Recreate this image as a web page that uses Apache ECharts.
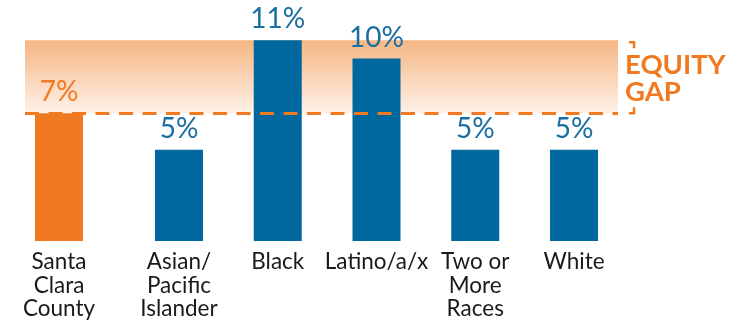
<!DOCTYPE html>
<html>
<head>
<meta charset="utf-8">
<script src="https://cdn.jsdelivr.net/npm/echarts@6/dist/echarts.min.js"></script>
<style>
  html, body { margin: 0; padding: 0; background: #fff; }
  #chart { width: 744px; height: 322px; }
</style>
</head>
<body>
<div id="chart"></div>
<script>
// benchmark bar
const countyLabel = ['Santa\nClara\nCounty'];
const countyValue = [7];

// racial / ethnic groups
const groupLabels = ['Asian/\nPacific\nIslander', 'Black', 'Latino/a/x', 'Two or\nMore\nRaces', 'White'];
const groupValues = [5, 11, 10, 5, 5];

// equity gap range (county rate up to highest group)
const gapRange = [7, 11];

const ORANGE = '#F07A21';
const BLUE = '#00679F';
const FONT = 'Lato, "Open Sans", sans-serif';

const chart = echarts.init(document.getElementById('chart'));

const gridTop = 22, gridBottom = 81;

const catAxis = (data, gridIndex) => ({
    type: 'category',
    gridIndex,
    data,
    axisLine: { show: false },
    axisTick: { show: false },
    axisLabel: {
        interval: 0,
        margin: 9,
        color: '#1a1a1a',
        fontFamily: FONT,
        fontSize: 22.5,
        lineHeight: 23.5
    }
});

const valAxis = (gridIndex) => ({
    type: 'value',
    gridIndex,
    min: 0,
    max: 12,
    show: false,
    splitLine: { show: false }
});

const barLabel = (color) => ({
    show: true,
    position: 'top',
    distance: 7,
    formatter: '{c}%',
    color,
    fontFamily: FONT,
    fontSize: 28
});

const option = {
    animation: false,
    grid: [
        { left: 9.5, width: 99, top: gridTop, bottom: gridBottom },
        { left: 129.6, right: 120.6, top: gridTop, bottom: gridBottom },
        { left: 25, right: 126, top: gridTop, bottom: gridBottom }
    ],
    xAxis: [
        catAxis(countyLabel, 0),
        catAxis(groupLabels, 1),
        { type: 'value', gridIndex: 2, min: 0, max: 1, show: false }
    ],
    yAxis: [valAxis(0), valAxis(1), valAxis(2)],
    series: [
        {
            type: 'line',
            xAxisIndex: 2,
            yAxisIndex: 2,
            data: [],
            z: 1,
            markArea: {
                silent: true,
                itemStyle: {
                    color: new echarts.graphic.LinearGradient(0, 0, 0, 1, [
                        { offset: 0, color: '#F6B683' },
                        { offset: 1, color: '#FEF1E8' }
                    ])
                },
                label: {
                    show: true,
                    position: 'right',
                    distance: 7,
                    formatter: 'EQUITY\nGAP',
                    align: 'left',
                    color: ORANGE,
                    fontFamily: FONT,
                    fontWeight: 'bold',
                    fontSize: 27.5,
                    lineHeight: 27,
                    offset: [0, 2]
                },
                data: [[{ yAxis: gapRange[1] }, { yAxis: gapRange[0] }]]
            },
            markLine: {
                silent: true,
                symbol: 'none',
                label: { show: false },
                lineStyle: { color: ORANGE, width: 3, type: [14, 9.5] },
                data: [{ yAxis: gapRange[0] }]
            }
        },
        {
            type: 'bar',
            xAxisIndex: 0,
            yAxisIndex: 0,
            data: countyValue,
            barWidth: 48,
            z: 3,
            itemStyle: { color: ORANGE },
            label: barLabel(ORANGE)
        },
        {
            type: 'bar',
            xAxisIndex: 1,
            yAxisIndex: 1,
            data: groupValues,
            barWidth: 48,
            z: 3,
            itemStyle: { color: BLUE },
            label: barLabel('#1B6EA2')
        }
    ]
};

chart.setOption(option);

// bracket corners beside the gap label
const yHi = chart.convertToPixel({ yAxisIndex: 2 }, gapRange[1]);
const yLo = chart.convertToPixel({ yAxisIndex: 2 }, gapRange[0]);
const bx = 634;
const bracketStyle = { stroke: ORANGE, lineWidth: 2.5, fill: 'none' };
chart.setOption({
    graphic: [
        { type: 'polyline', shape: { points: [[629, yHi + 2], [bx, yHi + 2], [bx, yHi + 8]] }, style: bracketStyle },
        { type: 'polyline', shape: { points: [[bx, yLo - 6], [bx, yLo], [629, yLo]] }, style: bracketStyle }
    ]
});
</script>
</body>
</html>
